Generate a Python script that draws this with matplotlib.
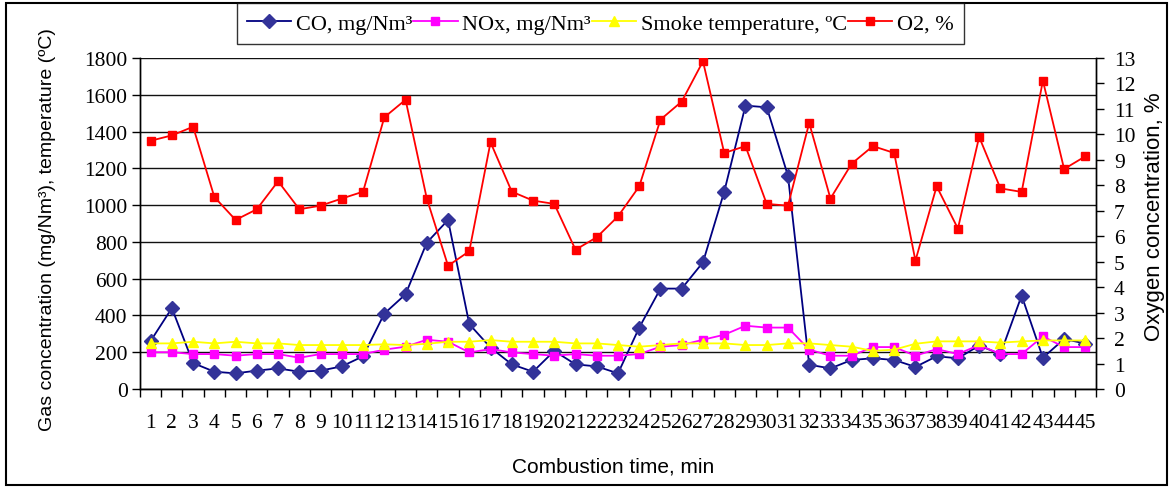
import matplotlib
matplotlib.use("Agg")
import matplotlib.pyplot as plt
from matplotlib.patches import Rectangle
from matplotlib.ticker import FixedLocator, NullFormatter

minutes = list(range(1, 46))
co = [261, 440, 141, 94, 85, 100, 112, 94, 100, 123, 178, 410, 515, 796, 919,
      353, 225, 134, 94, 207, 134, 123, 85, 334, 546, 546, 689, 1073, 1541, 1532,
      1160, 132, 112, 158, 167, 158, 120, 178, 167, 236, 190, 508, 170, 272, 247]
nox = [200, 200, 190, 190, 181, 190, 190, 170, 190, 190, 190, 214, 230, 268, 257,
       199, 217, 199, 190, 181, 190, 181, 181, 190, 230, 239, 268, 295, 344, 334,
       334, 214, 181, 181, 228, 228, 181, 217, 190, 239, 190, 190, 286, 228, 228]
temp = [248, 248, 257, 248, 257, 248, 248, 239, 239, 239, 239, 243, 239, 246, 257,
        257, 266, 257, 257, 257, 248, 248, 239, 230, 239, 248, 248, 248, 239, 239,
        248, 248, 239, 230, 207, 214, 246, 259, 259, 259, 252, 259, 264, 264, 264]
o2 = [9.75, 9.96, 10.3, 7.54, 6.64, 7.06, 8.16, 7.06, 7.2, 7.48, 7.75, 10.67, 11.36,
      7.48, 4.84, 5.41, 9.69, 7.75, 7.40, 7.27, 5.47, 5.96, 6.78, 7.96, 10.58, 11.29,
      12.87, 9.27, 9.54, 7.27, 7.2, 10.45, 7.48, 8.85, 9.54, 9.27, 5.04, 7.96, 6.30,
      9.9, 7.88, 7.74, 12.11, 8.64, 9.14]

left_ticks = list(range(0, 1801, 200))
right_ticks = list(range(0, 14))

W, H = 1173, 489
fig = plt.figure(figsize=(W / 100, H / 100), dpi=100)
ax = fig.add_axes([140 / W, 1 - 390 / H, (1096 - 140) / W, (390 - 59) / H])
ax2 = ax.twinx()

serif = "Liberation Serif"
sans = "Liberation Sans"
tfs = 15.5

ax.plot(minutes, co, color="#000080", lw=1.3, marker="D", ms=7,
        mfc="#333399", mec="#333399", label="CO, mg/Nm³", zorder=3)
ax.plot(minutes, nox, color="#FF00FF", lw=1.3, marker="s", ms=5.8,
        mfc="#FF00FF", mec="#FF00FF", label="NOx, mg/Nm³", zorder=4)
ax.plot(minutes, temp, color="#FFFF00", lw=1.3, marker="^", ms=6.8,
        mfc="#FFFF00", mec="#FFFF00", label="Smoke temperature, ºC", zorder=5)
ax2.plot(minutes, o2, color="#FF0000", lw=1.3, marker="s", ms=5.8,
         mfc="#FF0000", mec="#FF0000", label="O2, %", zorder=3)

ax.set_xlim(0.5, 45.5)
ax.set_ylim(0, 1800)
ax2.set_ylim(0, 13)

ax.set_yticks(left_ticks)
ax.set_yticklabels([str(t) for t in left_ticks], fontsize=tfs, family=serif)
ax2.set_yticks(right_ticks)
ax2.set_yticklabels([str(t) for t in right_ticks], fontsize=tfs, family=serif)

ax.set_xticks(minutes)
ax.set_xticklabels([str(m) for m in minutes], fontsize=tfs, family=serif)
ax.tick_params(axis="x", which="major", length=0, pad=17)
ax.xaxis.set_minor_locator(FixedLocator([m + 0.5 for m in range(0, 46)]))
ax.xaxis.set_minor_formatter(NullFormatter())
ax.tick_params(axis="x", which="minor", length=6, width=1, color="black", direction="out")
ax.tick_params(axis="y", length=6, width=1, direction="out", pad=3)
ax2.tick_params(axis="y", length=6, width=1, direction="out", pad=7)

ax.grid(axis="y", color="#111111", lw=1.0)
ax.set_axisbelow(True)
ax.spines["top"].set_visible(False)
ax2.spines["top"].set_visible(False)
for a in (ax, ax2):
    for s in a.spines.values():
        s.set_linewidth(1.0)
        s.set_color("black")
ax.patch.set_visible(False)

ax.set_xlabel("Combustion time, min", fontsize=15, family=sans)
ax.xaxis.set_label_coords(0.495, -0.2326)
ax.xaxis.label.set_va("center")
ax.set_ylabel("Gas concentration (mg/Nm³), temperature (ºC)", fontsize=14,
              family=sans)
ax.yaxis.set_label_coords(-0.097, 0.486)
ax.yaxis.label.set_va("center")
ax2.set_ylabel("Oxygen concentration, %", fontsize=16, family=sans)
ax2.yaxis.set_label_coords(1.0617, 0.524)
ax2.yaxis.label.set_va("center")

h1, l1 = ax.get_legend_handles_labels()
h2, l2 = ax2.get_legend_handles_labels()
leg = fig.legend(h1 + h2, l1 + l2, loc="upper left",
                 bbox_to_anchor=(237 / W, 1 - 4 / H), ncol=4, frameon=True,
                 fancybox=False, edgecolor="black", borderaxespad=0,
                 handlelength=2.0, handletextpad=0.2, columnspacing=0.05,
                 borderpad=0.45, prop={"family": serif, "size": 16})
leg.get_frame().set_linewidth(1.0)

fig.patches.append(Rectangle((6 / W, 1 - 486 / H), (1167 - 6) / W, (486 - 4) / H,
                             transform=fig.transFigure, fill=False,
                             edgecolor="black", lw=1.5))

fig.savefig("out.png", dpi=100)
